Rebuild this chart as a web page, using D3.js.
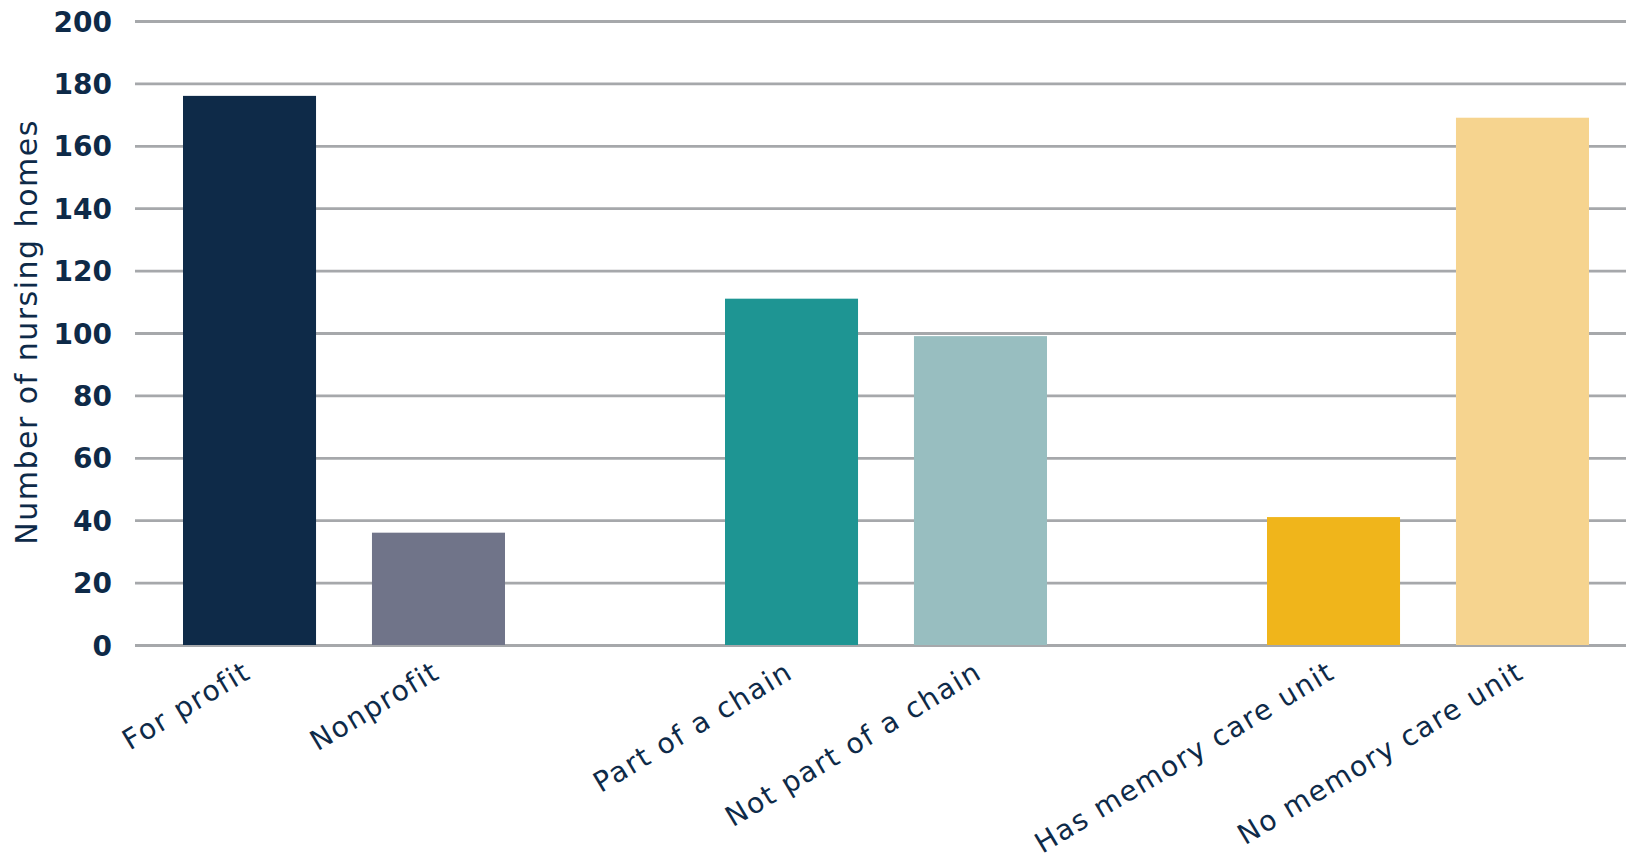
<!DOCTYPE html>
<html>
<head>
<meta charset="utf-8">
<script src="https://cdn.jsdelivr.net/npm/d3@7"></script>
<style>
  html, body { margin: 0; padding: 0; background: #ffffff; }
  svg { display: block; }
</style>
</head>
<body>
<svg id="chart" width="1626" height="862"></svg>
<script>
// ---- data ----
const categories = ["For profit", "Nonprofit", "Part of a chain", "Not part of a chain", "Has memory care unit", "No memory care unit"];
const groups = ["Profit status", "Profit status", "Chain status", "Chain status", "Memory care", "Memory care"];
const values = [176, 36, 111, 99, 41, 169];
const yTicks = [0, 20, 40, 60, 80, 100, 120, 140, 160, 180, 200];
const yTitle = "Number of nursing homes";
const colors = ["#0e2a48", "#707489", "#1e9593", "#98bec0", "#f0b51b", "#f6d48f"];

// ---- layout ----
const W = 1626, H = 862;
const plotLeft = 135, plotRight = 1626;
const yTop = 21, yBottom = 645;
const navy = "#0e2a48";
const FONT = "'DejaVu Sans', sans-serif";

const svg = d3.select("#chart");

const groupNames = Array.from(new Set(groups));
const x0 = d3.scaleBand().domain(groupNames).range([73, 73 + 542 * 3]).padding(0);
const x1 = d3.scaleBand().domain([0, 1]).range([110, 432]).paddingInner(0.296).paddingOuter(0);
const y = d3.scaleLinear().domain([0, 200]).range([yBottom, yTop]);

// within-group index
const idx = categories.map((c, i) => groups.slice(0, i).filter(g => g === groups[i]).length);
const xPos = i => x0(groups[i]) + x1(idx[i]);

// gridlines
const yAxis = d3.axisLeft(y).tickValues(yTicks).tickSize(-(plotRight - plotLeft)).tickFormat("");
const gGrid = svg.append("g").attr("transform", `translate(${plotLeft},0)`).call(yAxis);
gGrid.select(".domain").remove();
gGrid.selectAll(".tick line").attr("stroke", "#a6a8ab").attr("stroke-width", 2.8);

// tick labels
const yLab = d3.axisLeft(y).tickValues(yTicks).tickSize(0).tickPadding(0);
const gLab = svg.append("g").attr("transform", `translate(112,0)`).call(yLab);
gLab.select(".domain").remove();
gLab.selectAll(".tick text")
  .attr("fill", navy)
  .style("font-family", FONT)
  .style("font-weight", "bold")
  .style("font-size", "28px")
  .attr("dy", "0.36em");

// bars
svg.append("g").selectAll("rect").data(values).join("rect")
  .attr("x", (d, i) => xPos(i))
  .attr("width", x1.bandwidth())
  .attr("y", d => y(d))
  .attr("height", d => y(0) - y(d))
  .attr("fill", (d, i) => colors[i]);

// x labels
svg.append("g").selectAll("text").data(categories).join("text")
  .attr("transform", (d, i) => `translate(${xPos(i) + x1.bandwidth() / 2 + 3},${677}) rotate(-31)`)
  .attr("text-anchor", "end")
  .attr("fill", navy)
  .style("font-family", FONT)
  .style("font-size", "28px")
  .style("letter-spacing", "1.6px")
  .text(d => d);

// y title
svg.append("text")
  .attr("transform", `translate(26,332) rotate(-90)`)
  .attr("text-anchor", "middle")
  .attr("dominant-baseline", "central")
  .attr("fill", navy)
  .style("font-family", FONT)
  .style("font-size", "30px")
  .style("letter-spacing", "1.5px")
  .text(yTitle);
</script>
</body>
</html>
